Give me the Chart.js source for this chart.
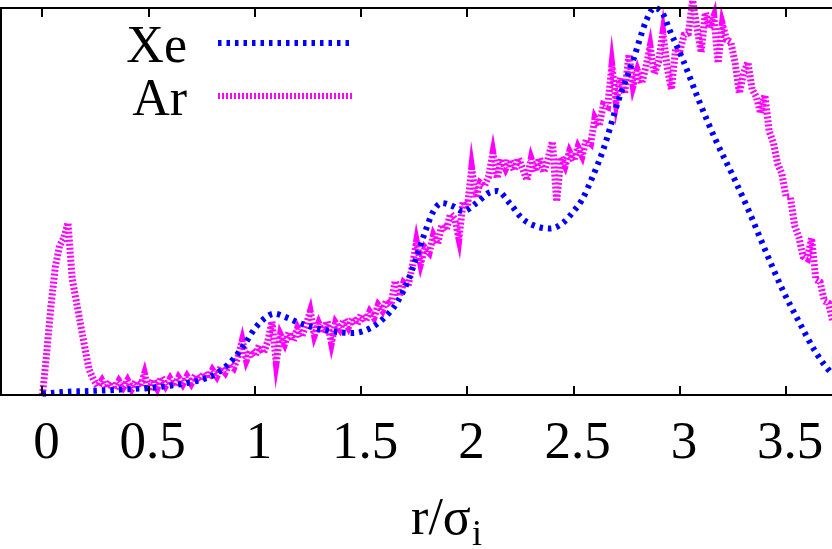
<!DOCTYPE html>
<html>
<head>
<meta charset="utf-8">
<script src="https://cdn.jsdelivr.net/npm/chart.js@4.4.1/dist/chart.umd.min.js"></script>
<style>
  body { margin: 0; background: #fff; }
  canvas { display: block; }
</style>
</head>
<body>
<canvas id="myChart" width="832" height="549"></canvas>
<script>
// x tick labels (r / sigma_i)
var xTicks = [0, 0.5, 1, 1.5, 2, 2.5, 3, 3.5];

// Xe curve (smooth, blue)
var xeX = [0.00, 0.10, 0.20, 0.30, 0.40, 0.50, 0.60, 0.70, 0.75, 0.80, 0.85, 0.90, 0.95, 1.00, 1.05, 1.09,
           1.15, 1.20, 1.26, 1.33, 1.40, 1.46, 1.54, 1.60, 1.67, 1.72, 1.75, 1.80, 1.84, 1.88, 1.93, 1.98,
           2.04, 2.10, 2.14, 2.20, 2.26, 2.33, 2.39, 2.45, 2.50, 2.54, 2.59, 2.64, 2.71, 2.78, 2.84, 2.88,
           2.92, 2.95, 3.015, 3.09, 3.17, 3.25, 3.325, 3.405, 3.485, 3.56, 3.64, 3.716, 3.80];
var xeY = [0.003, 0.008, 0.010, 0.012, 0.015, 0.018, 0.024, 0.033, 0.040, 0.050, 0.068, 0.094, 0.130, 0.172, 0.200, 0.210,
           0.200, 0.188, 0.177, 0.168, 0.162, 0.160, 0.172, 0.195, 0.240, 0.295, 0.340, 0.420, 0.475, 0.496, 0.488, 0.475,
           0.495, 0.522, 0.527, 0.495, 0.455, 0.435, 0.430, 0.445, 0.475, 0.505, 0.565, 0.635, 0.760, 0.865, 0.965, 1.000,
           0.985, 0.945, 0.865, 0.760, 0.657, 0.566, 0.475, 0.370, 0.270, 0.190, 0.110, 0.055, 0.020];

// Ar curve (noisy, magenta)
var arX = [0.00, 0.02, 0.04, 0.06, 0.08, 0.10, 0.12, 0.14, 0.16, 0.18,
           0.20, 0.22, 0.24, 0.26, 0.28, 0.30, 0.32, 0.34, 0.36, 0.38,
           0.40, 0.42, 0.44, 0.46, 0.48, 0.50, 0.52, 0.54, 0.56, 0.58,
           0.60, 0.62, 0.64, 0.66, 0.68, 0.70, 0.72, 0.74, 0.76, 0.78,
           0.80, 0.82, 0.84, 0.86, 0.88, 0.90, 0.92, 0.94, 0.96, 0.98,
           1.00, 1.02, 1.04, 1.06, 1.08, 1.10, 1.12, 1.14, 1.16, 1.18,
           1.20, 1.22, 1.24, 1.26, 1.28, 1.30, 1.32, 1.34, 1.36, 1.38,
           1.40, 1.42, 1.44, 1.46, 1.48, 1.50, 1.52, 1.54, 1.56, 1.58,
           1.60, 1.62, 1.64, 1.66, 1.68, 1.70, 1.72, 1.74, 1.76, 1.78,
           1.80, 1.82, 1.84, 1.86, 1.88, 1.90, 1.92, 1.94, 1.96, 1.98,
           2.00, 2.02, 2.04, 2.06, 2.08, 2.10, 2.12, 2.14, 2.16, 2.18,
           2.20, 2.22, 2.24, 2.26, 2.28, 2.30, 2.32, 2.34, 2.36, 2.38,
           2.40, 2.42, 2.44, 2.46, 2.48, 2.50, 2.52, 2.54, 2.56, 2.58,
           2.60, 2.62, 2.64, 2.66, 2.68, 2.70, 2.72, 2.74, 2.76, 2.78,
           2.80, 2.82, 2.84, 2.86, 2.88, 2.90, 2.92, 2.94, 2.96, 2.98,
           3.00, 3.02, 3.04, 3.06, 3.08, 3.10, 3.12, 3.14, 3.16, 3.18,
           3.20, 3.22, 3.24, 3.26, 3.28, 3.30, 3.32, 3.34, 3.36, 3.38,
           3.40, 3.42, 3.44, 3.46, 3.48, 3.50, 3.52, 3.54, 3.56, 3.58,
           3.60, 3.62, 3.64, 3.66, 3.68, 3.70, 3.72];
var arY = [0.000, 0.110, 0.230, 0.330, 0.385, 0.405, 0.445, 0.300, 0.240, 0.180,
           0.120, 0.065, 0.040, 0.022, 0.038, 0.018, 0.034, 0.014, 0.036, 0.020,
           0.038, 0.016, 0.036, 0.020, 0.055, 0.010, 0.040, 0.018, 0.046, 0.024,
           0.042, 0.022, 0.045, 0.028, 0.048, 0.030, 0.052, 0.036, 0.058, 0.042,
           0.064, 0.048, 0.072, 0.058, 0.080, 0.070, 0.098, 0.140, 0.090, 0.115,
           0.100, 0.128, 0.108, 0.138, 0.190, 0.085, 0.155, 0.132, 0.162, 0.140,
           0.172, 0.150, 0.180, 0.215, 0.155, 0.185, 0.160, 0.190, 0.135, 0.186,
           0.170, 0.195, 0.175, 0.200, 0.182, 0.208, 0.190, 0.215, 0.200, 0.232,
           0.218, 0.245, 0.232, 0.295, 0.255, 0.290, 0.280, 0.330, 0.395, 0.340,
           0.380, 0.368, 0.412, 0.390, 0.440, 0.425, 0.468, 0.455, 0.405, 0.500,
           0.485, 0.585, 0.510, 0.548, 0.540, 0.565, 0.625, 0.560, 0.610, 0.585,
           0.608, 0.580, 0.612, 0.585, 0.555, 0.610, 0.578, 0.612, 0.575, 0.612,
           0.655, 0.500, 0.615, 0.592, 0.628, 0.605, 0.640, 0.618, 0.660, 0.650,
           0.715, 0.695, 0.750, 0.745, 0.850, 0.758, 0.820, 0.778, 0.880, 0.800,
           0.838, 0.805, 0.848, 0.900, 0.830, 0.862, 0.935, 0.848, 0.790, 0.895,
           0.888, 0.930, 0.935, 1.020, 0.950, 0.885, 0.988, 0.948, 0.978, 0.858,
           0.958, 0.918, 0.912, 0.858, 0.780, 0.832, 0.860, 0.790, 0.770, 0.728,
           0.775, 0.682, 0.652, 0.598, 0.572, 0.512, 0.512, 0.438, 0.408, 0.358,
           0.352, 0.405, 0.298, 0.292, 0.243, 0.237, 0.190];

var seriesNames = ["Xe", "Ar"];
var seriesColors = ["#0000ff", "#ff00ff"];
var seriesDash = [[3.5, 5], [2, 2]];

function pairs(xs, ys) {
    return xs.map(function (x, i) { return { x: x, y: ys[i] }; });
}

var FONT = "'Liberation Serif', 'Times New Roman', serif";

// frame + inward ticks, gnuplot style
var framePlugin = {
    id: 'frame',
    afterDraw: function (chart) {
        var ctx = chart.ctx, a = chart.chartArea, xs = chart.scales.x;
        ctx.save();
        ctx.strokeStyle = '#000';
        ctx.lineWidth = 2;
        ctx.beginPath();
        ctx.moveTo(chart.width, a.top); ctx.lineTo(a.left + 1, a.top);
        ctx.lineTo(a.left + 1, a.bottom); ctx.lineTo(chart.width, a.bottom);
        xs.ticks.forEach(function (t) {
            var px = Math.round(xs.getPixelForValue(t.value));
            ctx.moveTo(px, a.top); ctx.lineTo(px, a.top + 9);
            ctx.moveTo(px, a.bottom); ctx.lineTo(px, a.bottom - 9);
        });
        ctx.stroke();
        ctx.restore();
    }
};

// key: text right-aligned, dashed sample to its right
var keyPlugin = {
    id: 'key',
    afterDraw: function (chart) {
        var ctx = chart.ctx;
        ctx.save();
        ctx.font = '52px ' + FONT;
        ctx.fillStyle = '#000';
        ctx.textAlign = 'right';
        ctx.textBaseline = 'alphabetic';
        seriesNames.forEach(function (name, i) {
            var y = 43 + i * 53;
            ctx.fillText(name, 187, y + 19);
            ctx.strokeStyle = seriesColors[i];
            ctx.lineWidth = 6;
            ctx.setLineDash(seriesDash[i]);
            ctx.beginPath();
            ctx.moveTo(218, y); ctx.lineTo(354, y);
            ctx.stroke();
        });
        ctx.restore();
    }
};

// axis title r/σ with subscript i
var titlePlugin = {
    id: 'xtitle',
    afterDraw: function (chart) {
        var ctx = chart.ctx;
        ctx.save();
        ctx.fillStyle = '#000';
        ctx.textBaseline = 'alphabetic';
        ctx.textAlign = 'left';
        ctx.font = '52px ' + FONT;
        var main = 'r/σ';
        var w = ctx.measureText(main).width;
        ctx.font = '36px ' + FONT;
        var ws = ctx.measureText('i').width;
        var x0 = 446 - (w + ws) / 2;
        ctx.font = '52px ' + FONT;
        ctx.fillText(main, x0, 534);
        ctx.font = '36px ' + FONT;
        ctx.fillText('i', x0 + w + 1, 545);
        ctx.restore();
    }
};

var ctx = document.getElementById("myChart").getContext('2d');
new Chart(ctx, {
    type: 'line',
    data: {
        datasets: [
            {
                label: seriesNames[0],
                data: pairs(xeX, xeY),
                borderColor: seriesColors[0],
                borderWidth: 6,
                borderDash: seriesDash[0],
                cubicInterpolationMode: 'monotone',
                pointRadius: 0,
                fill: false,
                clip: false
            },
            {
                label: seriesNames[1],
                data: pairs(arX, arY),
                borderColor: seriesColors[1],
                borderWidth: 7,
                borderDash: seriesDash[1],
                tension: 0,
                pointRadius: 0,
                fill: false,
                clip: false
            }
        ]
    },
    options: {
        responsive: false,
        animation: false,
        layout: { padding: { top: 8, left: 0, right: 0, bottom: 55 } },
        plugins: { legend: { display: false }, tooltip: { enabled: false } },
        scales: {
            x: {
                type: 'linear',
                min: -0.2,
                max: 3.716,
                grid: { display: false, drawTicks: false },
                border: { display: false },
                afterBuildTicks: function (scale) {
                    scale.ticks = xTicks.map(function (v) { return { value: v }; });
                },
                afterFit: function (scale) {
                    scale.paddingLeft = 0;
                    scale.paddingRight = 0;
                },
                ticks: {
                    autoSkip: false,
                    maxRotation: 0,
                    padding: 23,
                    labelOffset: 4,
                    color: '#000',
                    font: { family: FONT, size: 53, lineHeight: 1 },
                    callback: function (v) { return String(v); }
                }
            },
            y: {
                type: 'linear',
                min: 0,
                max: 1,
                display: false
            }
        }
    },
    plugins: [framePlugin, keyPlugin, titlePlugin]
});
</script>
</body>
</html>
